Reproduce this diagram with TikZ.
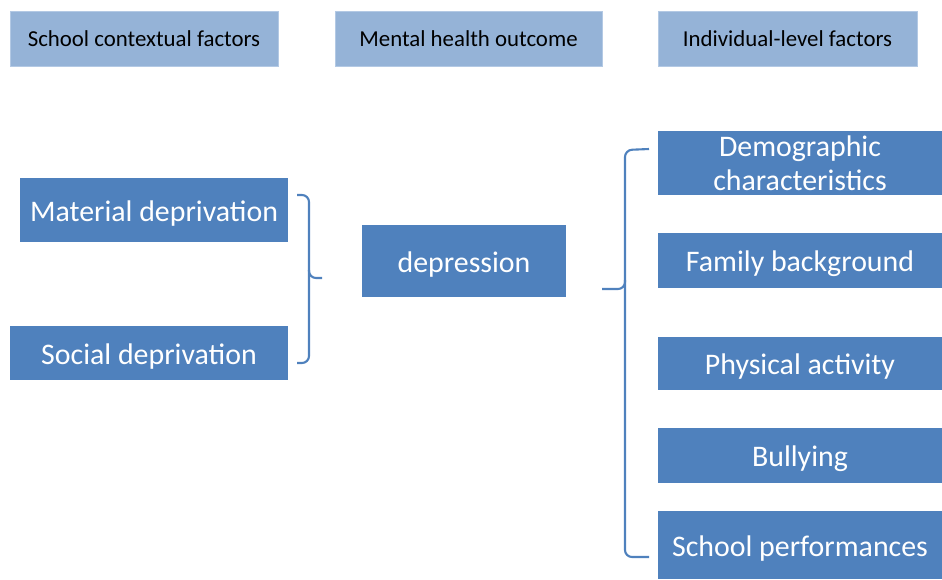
\documentclass[tikz,border=0pt]{standalone}
\usepackage{fontspec}
\setmainfont{Carlito}
\definecolor{boxblue}{HTML}{4F81BD}
\definecolor{hdrblue}{HTML}{95B3D7}
\definecolor{hdredge}{HTML}{B3C9E4}

\tikzset{
  hdrbox/.style={fill=hdrblue, draw=hdredge, line width=0.4pt, inner sep=0pt,
    minimum height=55*0.02cm, font=\fontsize{13}{15}\selectfont, text=black},
  factor/.style={fill=boxblue, inner sep=0pt, text=white, align=center,
    font=\fontsize{17}{19.4}\selectfont},
  oneline/.style={factor, text height=15.6pt, text depth=3pt},
  bracket/.style={draw=boxblue, line width=1.2pt, rounded corners=4pt}
}

\begin{document}
\begin{tikzpicture}[x=0.02cm, y=-0.02cm]
    \useasboundingbox (0,0) rectangle (942,579);

    % Column headings
    \node[hdrbox, minimum width=268*0.02cm] (hdrschool) at (144,38.5) {School contextual factors};
    \node[hdrbox, minimum width=267*0.02cm] (hdrmental) at (468.5,38.5) {Mental health outcome};
    \node[hdrbox, minimum width=259*0.02cm] (hdrindiv) at (787.5,38.5) {Individual-level factors};

    % School-level factors
    \node[oneline, minimum width=268*0.02cm, minimum height=64*0.02cm] (material) at (154,210) {Material deprivation};
    \node[oneline, minimum width=278*0.02cm, minimum height=54*0.02cm] (social) at (149,353) {Social deprivation};

    % Outcome
    \node[oneline, minimum width=204*0.02cm, minimum height=72*0.02cm] (depression) at (464,261) {depression};

    % Individual-level factors
    \node[factor, minimum width=284*0.02cm, minimum height=64*0.02cm] (demog) at (800,163) {Demographic\\characteristics};
    \node[oneline, minimum width=284*0.02cm, minimum height=55*0.02cm] (family) at (800,260.5) {Family background};
    \node[oneline, minimum width=284*0.02cm, minimum height=53*0.02cm] (physical) at (800,363.5) {Physical activity};
    \node[oneline, minimum width=284*0.02cm, minimum height=55*0.02cm] (bullying) at (800,455.5) {Bullying};
    \node[oneline, minimum width=284*0.02cm, minimum height=68*0.02cm] (schoolperf) at (800,545) {School performances};

    % Left brace
    \draw[bracket] (297,195) -- (309,195) -- (309,278) -- (322,278);
    \draw[bracket] (309,270) -- (309,363) -- (297,363);

    % Right brace
    \draw[bracket] (649,149) -- (625,150) -- (625,289) -- (602,289);
    \draw[bracket] (625,280) -- (625,557) -- (649,557);
\end{tikzpicture}
\end{document}
